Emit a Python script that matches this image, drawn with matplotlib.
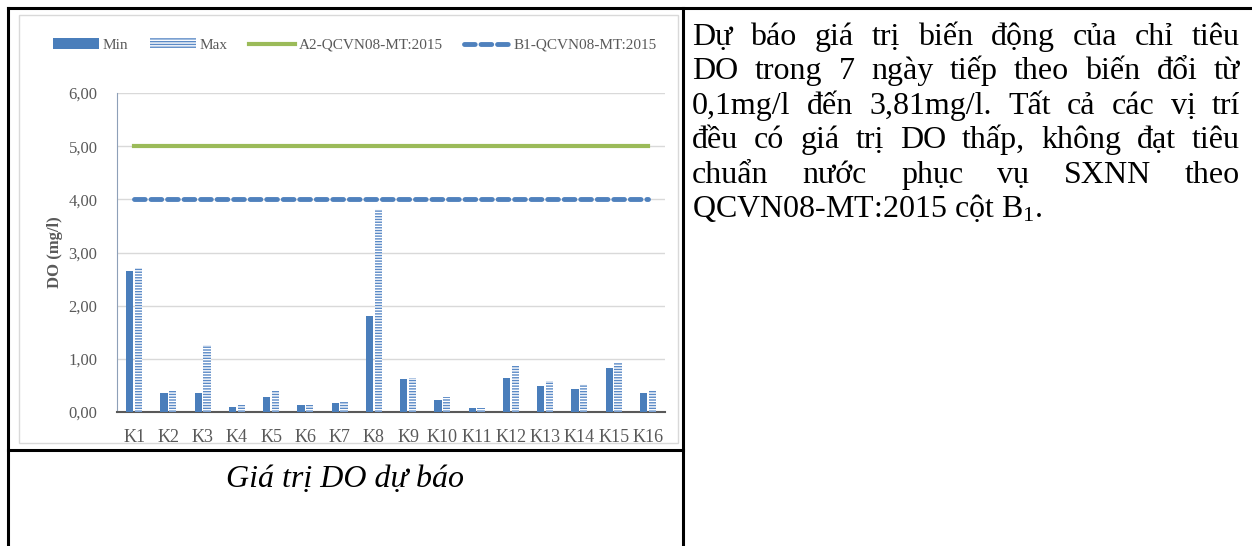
import matplotlib.pyplot as plt
import numpy as np
from matplotlib.patches import Rectangle, Patch
from matplotlib.lines import Line2D

plt.rcParams['font.family'] = ['Liberation Serif', 'DejaVu Serif']
plt.rcParams['mathtext.fontset'] = 'custom'
plt.rcParams['mathtext.rm'] = 'Liberation Serif'
plt.rcParams['mathtext.default'] = 'regular'
plt.rcParams['hatch.linewidth'] = 1.0

# data
tram = ["K1", "K2", "K3", "K4", "K5", "K6", "K7", "K8",
        "K9", "K10", "K11", "K12", "K13", "K14", "K15", "K16"]
do_min = [2.66, 0.35, 0.35, 0.10, 0.29, 0.13, 0.17, 1.81,
          0.62, 0.22, 0.08, 0.64, 0.49, 0.44, 0.83, 0.35]
do_max = [2.71, 0.40, 1.26, 0.13, 0.40, 0.13, 0.19, 3.81,
          0.64, 0.29, 0.08, 0.87, 0.58, 0.52, 0.92, 0.41]
a2 = 5.0
b1 = 4.0
yticks = [0, 1, 2, 3, 4, 5, 6]
ytick_labels = ["0,00", "1,00", "2,00", "3,00", "4,00", "5,00", "6,00"]

cau = ["Dự báo giá trị biến động của chỉ tiêu",
       "DO trong 7 ngày tiếp theo biến đổi từ",
       "0,1mg/l đến 3,81mg/l. Tất cả các vị trí",
       "đều có giá trị DO thấp, không đạt tiêu",
       "chuẩn nước phục vụ SXNN theo"]
cau_cuoi = "QCVN08-MT:2015 cột B$_1$."
chu_thich = "Giá trị DO dự báo"

W, H = 1252, 546
fig = plt.figure(figsize=(W / 100, H / 100), dpi=100)

def fx(px):
    return px / W

def fy(py):
    return 1 - py / H

# table borders
k = dict(transform=fig.transFigure, color="black", lw=2.2)
fig.add_artist(Line2D([fx(8), fx(8)], [fy(8), 0], **k))
fig.add_artist(Line2D([fx(8), 1], [fy(8), fy(8)], **k))
fig.add_artist(Line2D([fx(683), fx(683)], [fy(8), 0], **k))
fig.add_artist(Line2D([fx(8), fx(683)], [fy(450), fy(450)], **k))

# chart frame
fig.add_artist(Rectangle((fx(19), fy(443)), fx(678) - fx(19), fy(15) - fy(443),
                         transform=fig.transFigure, fill=False,
                         edgecolor="#d9d9d9", lw=1))

ax = fig.add_axes([fx(117), fy(412), fx(665) - fx(117), fy(93) - fy(412)])
x = np.arange(len(tram))
w = 0.21
blue = "#4a7ebb"
ax.bar(x - w / 2 - 0.02, do_min, w, color=blue, label="Min", zorder=3)
ax.bar(x + w / 2 + 0.02, do_max, w, facecolor="#5b8ac6", edgecolor="white",
       hatch="------", lw=0, label="Max", zorder=3)
ax.plot(x, [a2] * len(x), color="#9bbb59", lw=3, label="A2-QCVN08-MT:2015", zorder=4)
ax.plot(x, [b1] * len(x), color="#4f81bd", lw=3.5, ls=(0, (2.2, 1.2)),
        dash_capstyle="round", label="B1-QCVN08-MT:2015", zorder=4)

ax.set_xlim(-0.5, len(tram) - 0.5)
ax.set_ylim(0, 6)
ax.set_yticks(yticks)
ax.set_yticklabels(ytick_labels)
ax.set_xticks(x)
ax.set_xticklabels(tram)
ax.tick_params(axis="both", length=0, labelcolor="#595959")
ax.tick_params(axis="y", pad=14, labelsize=12)
ax.tick_params(axis="x", pad=12, labelsize=13)
ax.grid(axis="y", color="#d9d9d9", lw=1)
ax.set_axisbelow(True)
for s in ["top", "right"]:
    ax.spines[s].set_visible(False)
ax.spines["left"].set_color("#8ea0b8")
ax.spines["bottom"].set_color("#595959")
ax.spines["bottom"].set_linewidth(1.5)
ax.set_ylabel("DO (mg/l)", fontsize=12, fontweight="bold", color="#595959", labelpad=4)

handles = [Patch(facecolor=blue, label="Min"),
           Patch(facecolor="#5b8ac6", edgecolor="white", hatch="------", lw=0, label="Max"),
           Line2D([], [], color="#9bbb59", lw=3, label="A2-QCVN08-MT:2015"),
           Line2D([], [], color="#4f81bd", lw=3.5, ls=(0, (2.2, 1.2)),
                  dash_capstyle="round", label="B1-QCVN08-MT:2015")]
fig.legend(handles=handles, loc="center", bbox_to_anchor=(fx(355), fy(45)), ncol=4,
           frameon=False, fontsize=11, labelcolor="#595959", handlelength=3.0,
           handletextpad=0.25, columnspacing=1.4)

fig.text(fx(345), fy(480), chu_thich, fontsize=23, style="italic",
         ha="center", va="center")

# justified paragraph on the right
fig.canvas.draw()
r = fig.canvas.get_renderer()
x0, x1 = 692, 1240
base = 45
step = 34.4
for i, line in enumerate(cau):
    words = line.split()
    ts = [fig.text(0, fy(base + i * step), wd, fontsize=23, va="baseline")
          for wd in words]
    ws = [t.get_window_extent(r).width for t in ts]
    gap = (x1 - x0 - sum(ws)) / (len(words) - 1)
    xx = x0
    for t, wd in zip(ts, ws):
        t.set_x(fx(xx))
        xx += wd + gap
fig.text(fx(x0), fy(base + len(cau) * step), cau_cuoi, fontsize=23, va="baseline")

fig.savefig("out.png", dpi=100)
